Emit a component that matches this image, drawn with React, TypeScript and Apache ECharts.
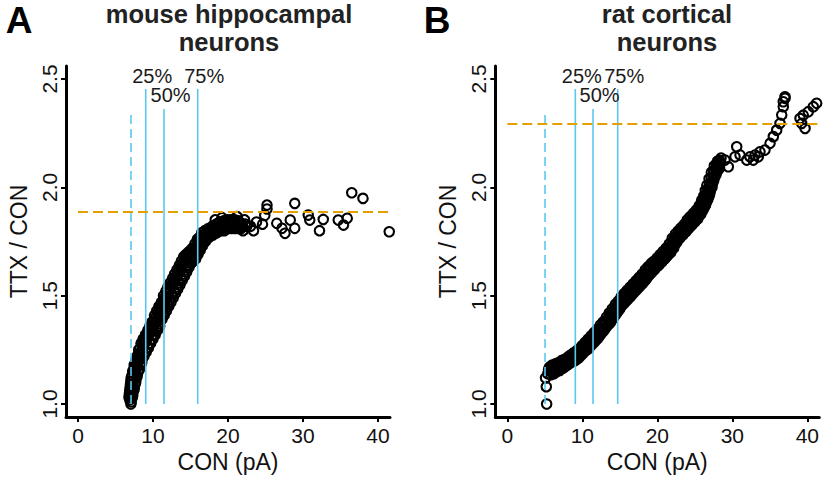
import React, { useEffect, useRef } from "react";
import * as echarts from "echarts";

// ---------- data ----------
const xTicks = [0, 10, 20, 30, 40];
const yTicks = [1.0, 1.5, 2.0, 2.5];
const pctNames = ["25%", "50%", "75%"];
const panelTitles = [["mouse hippocampal", "neurons"], ["rat cortical", "neurons"]];
const panelLetters = ["A", "B"];

const mouseMin = 7.07;
const mousePct = [9.03, 11.47, 15.96];
const mouseMean = 1.886;
const ratMin = 5.03;
const ratPct = [9.07, 11.43, 14.72];
const ratMean = 2.292;
const pctTops = [2.454, 2.361, 2.454];
const minTops = [2.343, 2.334];
const pctLabelY = [2.513, 2.425, 2.513];

const mouseBandLeft: [number, number][] = [
  [6.8, 1.03], [6.9, 1.06], [7.0, 1.09], [7.1, 1.12], [7.3, 1.15], [7.5, 1.18], [7.7, 1.2], [7.9, 1.22],
  [8.1, 1.25], [8.4, 1.28], [8.7, 1.3], [9.0, 1.32], [9.3, 1.34], [9.6, 1.36], [9.9, 1.38], [10.2, 1.41],
  [10.5, 1.43], [10.8, 1.45], [11.1, 1.47], [11.4, 1.5], [11.7, 1.52], [12.0, 1.54], [12.3, 1.56],
  [12.6, 1.58], [12.9, 1.6], [13.2, 1.62], [13.5, 1.64], [13.8, 1.66], [14.1, 1.68], [14.4, 1.69],
  [14.7, 1.7], [15.0, 1.71], [15.3, 1.72], [15.6, 1.74], [15.9, 1.76], [16.2, 1.77], [16.5, 1.79],
  [16.9, 1.8], [17.4, 1.81], [17.9, 1.82], [18.4, 1.83], [18.9, 1.84], [19.4, 1.845], [19.9, 1.85],
  [20.4, 1.85], [20.9, 1.85], [21.4, 1.845],
];
const mouseBandLeft2: [number, number][] = [
  [6.85, 1.045], [6.95, 1.075], [7.05, 1.105], [7.2, 1.13], [7.4, 1.16], [7.6, 1.185], [7.8, 1.205],
  [8.0, 1.23], [8.25, 1.255], [8.55, 1.28], [8.85, 1.3], [9.15, 1.32], [9.45, 1.34], [9.75, 1.36],
  [10.05, 1.38], [10.35, 1.4], [10.65, 1.42], [10.95, 1.445], [11.25, 1.465], [11.55, 1.49], [11.85, 1.51],
  [12.15, 1.53], [12.45, 1.55], [12.75, 1.57], [13.05, 1.59], [13.35, 1.61], [13.65, 1.63], [13.95, 1.65],
  [14.25, 1.67], [14.55, 1.68], [14.85, 1.69], [15.15, 1.7], [15.45, 1.71], [15.75, 1.725], [16.05, 1.745],
  [16.35, 1.76], [16.7, 1.78], [17.1, 1.79], [17.6, 1.8], [18.1, 1.81], [18.6, 1.82], [19.1, 1.83],
  [19.6, 1.835], [20.1, 1.84], [20.6, 1.84], [21.1, 1.84], [21.7, 1.835], [22.3, 1.83],
];
const mouseBandMid: [number, number][] = [
  [6.9, 1.02], [7.0, 1.05], [7.1, 1.08], [7.3, 1.11], [7.5, 1.14], [7.7, 1.17], [7.9, 1.19], [8.1, 1.21],
  [8.4, 1.24], [8.7, 1.27], [9.0, 1.29], [9.3, 1.31], [9.6, 1.33], [9.9, 1.35], [10.2, 1.37], [10.5, 1.39],
  [10.8, 1.42], [11.1, 1.44], [11.4, 1.46], [11.7, 1.48], [12.0, 1.51], [12.3, 1.53], [12.6, 1.55],
  [12.9, 1.57], [13.2, 1.59], [13.5, 1.61], [13.8, 1.63], [14.1, 1.65], [14.4, 1.66], [14.7, 1.67],
  [15.0, 1.68], [15.3, 1.69], [15.6, 1.7], [15.9, 1.71], [16.2, 1.73], [16.5, 1.75], [16.8, 1.77],
  [17.1, 1.78], [17.5, 1.79], [18.0, 1.8], [18.5, 1.81], [19.0, 1.82], [19.5, 1.82], [20.0, 1.83],
  [20.5, 1.83], [21.0, 1.83], [21.5, 1.83], [22.0, 1.82], [22.5, 1.82], [23.0, 1.82],
];
const mouseBandInner: [number, number][] = [
  [7.0, 1.03], [7.2, 1.06], [7.3, 1.09], [7.5, 1.12], [7.7, 1.15], [7.9, 1.18], [8.1, 1.2], [8.3, 1.22],
  [8.6, 1.25], [8.9, 1.28], [9.2, 1.3], [9.5, 1.32], [9.8, 1.34], [10.1, 1.36], [10.4, 1.38], [10.7, 1.4],
  [11.0, 1.43], [11.3, 1.45], [11.6, 1.47], [11.9, 1.49], [12.2, 1.52], [12.5, 1.54], [12.8, 1.56],
  [13.1, 1.58], [13.4, 1.6], [13.7, 1.62], [14.0, 1.64], [14.3, 1.655], [14.6, 1.665], [14.9, 1.675],
  [15.2, 1.685], [15.5, 1.695], [15.8, 1.705], [16.1, 1.72], [16.4, 1.74], [16.7, 1.76], [17.0, 1.77],
  [17.3, 1.78], [17.8, 1.79], [18.3, 1.8], [18.8, 1.81], [19.3, 1.815], [19.8, 1.82], [20.3, 1.82],
  [20.8, 1.82], [21.3, 1.82], [21.8, 1.815],
];
const mouseBandRight2: [number, number][] = [
  [7.05, 1.0], [7.25, 1.03], [7.4, 1.06], [7.6, 1.09], [7.8, 1.12], [8.05, 1.15], [8.3, 1.18], [8.6, 1.21],
  [8.95, 1.24], [9.25, 1.26], [9.55, 1.28], [9.85, 1.3], [10.15, 1.32], [10.45, 1.35], [10.75, 1.37],
  [11.05, 1.39], [11.35, 1.42], [11.65, 1.44], [11.95, 1.46], [12.25, 1.48], [12.55, 1.5], [12.85, 1.52],
  [13.15, 1.54], [13.45, 1.56], [13.75, 1.58], [14.05, 1.6], [14.35, 1.62], [14.65, 1.64], [14.95, 1.655],
  [15.25, 1.665], [15.55, 1.675], [15.85, 1.69], [16.15, 1.71], [16.45, 1.73], [16.8, 1.75], [17.25, 1.77],
  [17.75, 1.78], [18.25, 1.79], [18.75, 1.8], [19.25, 1.805], [19.75, 1.81], [20.25, 1.815], [20.75, 1.815],
  [21.25, 1.815], [21.75, 1.81],
];
const mouseBandRight: [number, number][] = [
  [7.1, 1.01], [7.3, 1.04], [7.5, 1.07], [7.7, 1.1], [7.9, 1.13], [8.2, 1.16], [8.5, 1.19], [8.8, 1.22],
  [9.1, 1.24], [9.4, 1.26], [9.7, 1.28], [10.0, 1.3], [10.3, 1.32], [10.6, 1.34], [10.9, 1.36], [11.2, 1.39],
  [11.5, 1.41], [11.8, 1.43], [12.1, 1.45], [12.4, 1.47], [12.7, 1.49], [13.0, 1.51], [13.3, 1.53],
  [13.6, 1.55], [13.9, 1.57], [14.2, 1.59], [14.5, 1.61], [14.8, 1.63], [15.1, 1.65], [15.4, 1.66],
  [15.7, 1.67], [16.0, 1.69], [16.3, 1.71], [16.6, 1.73], [17.0, 1.75], [17.5, 1.77], [18.0, 1.78],
  [18.5, 1.79], [19.0, 1.8], [19.5, 1.8], [20.0, 1.81], [20.5, 1.81], [21.0, 1.81], [21.5, 1.81], [22.0, 1.8],
];
const mouseSpread: [number, number][] = [
  [18.3, 1.85], [19.2, 1.86], [21.2, 1.865], [22.2, 1.85], [23.4, 1.8], [23.8, 1.84], [24.6, 1.83],
  [25.2, 1.918], [25.2, 1.9], [24.9, 1.87], [26.5, 1.834], [27.2, 1.811], [27.6, 1.788], [28.3, 1.849],
  [28.9, 1.811], [28.9, 1.926], [30.7, 1.872], [30.9, 1.849], [32.2, 1.8], [32.7, 1.852], [34.7, 1.849],
  [35.4, 1.826], [35.9, 1.857], [36.5, 1.975], [38.0, 1.949], [41.5, 1.795],
];

const ratBandMid: [number, number][] = [
  [5.25, 1.0], [5.2, 1.08], [5.1, 1.12], [5.4, 1.14], [5.8, 1.15], [6.2, 1.16], [6.6, 1.165], [7.0, 1.17],
  [7.4, 1.18], [7.8, 1.19], [8.2, 1.2], [8.6, 1.21], [9.0, 1.215], [9.4, 1.225], [9.8, 1.24], [10.2, 1.255],
  [10.6, 1.265], [11.0, 1.28], [11.4, 1.295], [11.8, 1.31], [12.2, 1.33], [12.6, 1.345], [13.0, 1.365],
  [13.4, 1.385], [13.8, 1.4], [14.2, 1.42], [14.6, 1.44], [15.0, 1.46], [15.4, 1.48], [15.8, 1.495],
  [16.2, 1.51], [16.6, 1.525], [17.0, 1.54], [17.4, 1.555], [17.8, 1.57], [18.2, 1.585], [18.6, 1.6],
  [19.0, 1.62], [19.4, 1.635], [19.8, 1.645], [20.2, 1.66], [20.6, 1.675], [21.0, 1.69], [21.4, 1.705],
  [21.8, 1.72], [22.2, 1.745], [22.6, 1.77], [23.0, 1.785], [23.4, 1.8], [23.8, 1.815], [24.2, 1.83],
  [24.6, 1.845], [25.0, 1.86], [25.4, 1.875], [25.8, 1.895], [26.1, 1.92], [26.4, 1.94], [26.6, 1.955],
  [26.8, 1.975], [27.0, 2.0], [27.2, 2.025], [27.5, 2.05], [27.8, 2.08], [28.1, 2.1], [28.4, 2.115],
];
const ratBandUpper2: [number, number][] = [
  [5.5, 1.16], [5.9, 1.165], [6.3, 1.175], [6.7, 1.18], [7.1, 1.185], [7.5, 1.195], [7.9, 1.2], [8.3, 1.215],
  [8.7, 1.225], [9.1, 1.23], [9.5, 1.24], [9.9, 1.255], [10.3, 1.27], [10.7, 1.28], [11.1, 1.3], [11.5, 1.31],
  [11.9, 1.325], [12.3, 1.345], [12.7, 1.365], [13.1, 1.38], [13.5, 1.4], [13.9, 1.42], [14.3, 1.44],
  [14.7, 1.46], [15.1, 1.475], [15.5, 1.495], [15.9, 1.51], [16.3, 1.525], [16.7, 1.54], [17.1, 1.555],
  [17.5, 1.57], [17.9, 1.585], [18.3, 1.6], [18.7, 1.62], [19.1, 1.635], [19.5, 1.65], [19.9, 1.66],
  [20.3, 1.675], [20.7, 1.69], [21.1, 1.705], [21.5, 1.72], [21.9, 1.74], [22.3, 1.765], [22.7, 1.785],
  [23.1, 1.8], [23.5, 1.815], [23.9, 1.83], [24.3, 1.85], [24.7, 1.865], [25.1, 1.88], [25.5, 1.895],
  [25.85, 1.915], [26.15, 1.94], [26.45, 1.96], [26.7, 1.985], [26.95, 2.015], [27.2, 2.045], [27.5, 2.075],
  [27.9, 2.105], [28.3, 2.125],
];
const ratBandUpper: [number, number][] = [
  [5.6, 1.17], [6.0, 1.18], [6.4, 1.185], [6.8, 1.19], [7.2, 1.2], [7.6, 1.205], [8.0, 1.215], [8.4, 1.225],
  [8.8, 1.235], [9.2, 1.245], [9.6, 1.255], [10.0, 1.27], [10.4, 1.285], [10.8, 1.3], [11.2, 1.315],
  [11.6, 1.33], [12.0, 1.345], [12.4, 1.365], [12.8, 1.38], [13.2, 1.4], [13.6, 1.42], [14.0, 1.44],
  [14.4, 1.46], [14.8, 1.475], [15.2, 1.495], [15.6, 1.51], [16.0, 1.525], [16.4, 1.54], [16.8, 1.555],
  [17.2, 1.57], [17.6, 1.585], [18.0, 1.6], [18.4, 1.62], [18.8, 1.635], [19.2, 1.65], [19.6, 1.66],
  [20.0, 1.675], [20.4, 1.69], [20.8, 1.705], [21.2, 1.72], [21.6, 1.74], [22.0, 1.765], [22.4, 1.785],
  [22.8, 1.8], [23.2, 1.815], [23.6, 1.83], [24.0, 1.85], [24.4, 1.865], [24.8, 1.88], [25.2, 1.895],
  [25.6, 1.915], [25.9, 1.94], [26.2, 1.96], [26.4, 1.985], [26.6, 2.01], [26.9, 2.04], [27.2, 2.07],
  [27.6, 2.1], [28.0, 2.12], [28.5, 2.135],
];
const ratBandLower2: [number, number][] = [
  [5.8, 1.135], [6.2, 1.14], [6.6, 1.15], [7.0, 1.155], [7.4, 1.165], [7.8, 1.175], [8.2, 1.185], [8.6, 1.195],
  [9.0, 1.2], [9.4, 1.21], [9.8, 1.225], [10.2, 1.24], [10.6, 1.25], [11.0, 1.265], [11.4, 1.28], [11.8, 1.295],
  [12.2, 1.31], [12.6, 1.33], [13.0, 1.345], [13.4, 1.365], [13.8, 1.38], [14.2, 1.4], [14.6, 1.42],
  [15.0, 1.44], [15.4, 1.46], [15.8, 1.475], [16.2, 1.49], [16.6, 1.505], [17.0, 1.52], [17.4, 1.535],
  [17.8, 1.55], [18.2, 1.565], [18.6, 1.58], [19.0, 1.6], [19.4, 1.615], [19.8, 1.63], [20.2, 1.64],
  [20.6, 1.655], [21.0, 1.67], [21.4, 1.685], [21.8, 1.7], [22.2, 1.72], [22.6, 1.745], [23.0, 1.765],
  [23.4, 1.78], [23.8, 1.795], [24.2, 1.81], [24.6, 1.825], [25.0, 1.84], [25.4, 1.855], [25.8, 1.875],
  [26.15, 1.9], [26.45, 1.92], [26.75, 1.945], [27.0, 1.97], [27.3, 2.0], [27.55, 2.035], [27.85, 2.06],
  [28.2, 2.085],
];
const ratBandLower: [number, number][] = [
  [6.0, 1.145], [6.4, 1.15], [6.8, 1.155], [7.2, 1.165], [7.6, 1.17], [8.0, 1.18], [8.4, 1.19], [8.8, 1.2],
  [9.2, 1.205], [9.6, 1.215], [10.0, 1.23], [10.4, 1.245], [10.8, 1.255], [11.2, 1.27], [11.6, 1.285],
  [12.0, 1.3], [12.4, 1.32], [12.8, 1.335], [13.2, 1.355], [13.6, 1.37], [14.0, 1.39], [14.4, 1.41],
  [14.8, 1.43], [15.2, 1.45], [15.6, 1.465], [16.0, 1.48], [16.4, 1.495], [16.8, 1.51], [17.2, 1.525],
  [17.6, 1.54], [18.0, 1.555], [18.4, 1.57], [18.8, 1.59], [19.2, 1.605], [19.6, 1.62], [20.0, 1.635],
  [20.4, 1.65], [20.8, 1.665], [21.2, 1.68], [21.6, 1.695], [22.0, 1.715], [22.4, 1.74], [22.8, 1.76],
  [23.2, 1.775], [23.6, 1.79], [24.0, 1.805], [24.4, 1.82], [24.8, 1.835], [25.2, 1.85], [25.6, 1.87],
  [26.0, 1.89], [26.3, 1.91], [26.6, 1.935], [26.9, 1.96], [27.1, 1.985], [27.4, 2.02], [27.7, 2.05],
  [28.0, 2.075], [28.3, 2.09],
];
const ratSpread: [number, number][] = [
  [28.36, 2.111], [29.03, 2.126], [29.47, 2.095], [30.59, 2.187], [30.36, 2.141], [31.03, 2.149],
  [31.92, 2.126], [32.36, 2.141], [32.8, 2.126], [33.03, 2.149], [33.47, 2.141], [33.69, 2.164],
  [34.36, 2.172], [35.03, 2.203], [35.47, 2.234], [35.92, 2.264], [36.36, 2.295], [36.59, 2.334],
  [36.8, 2.372], [37.03, 2.411], [37.03, 2.418], [36.8, 2.395],
  [39.03, 2.318], [39.25, 2.295], [39.7, 2.272], [39.47, 2.333], [40.13, 2.349], [40.8, 2.372], [41.25, 2.388],
];

// ---------- layout / style ----------
const X_MIN = -1.6;
const X_MAX = 41.6;
const Y_MIN = 0.94;
const Y_MAX = 2.56;
const FONT = "Liberation Sans, Arial, Helvetica, sans-serif";
const CYAN = "#5ac8f0";
const ORANGE = "#e69f00";
const INK = "#111";
const gridLefts = [66, 495.3];
const titleCenters = [229, 667];
const letterCenters = [19, 437];

export default function App() {
  const ref = useRef<HTMLDivElement>(null);
  useEffect(() => {
    if (!ref.current) return;
    const chart = echarts.init(ref.current, undefined, { renderer: "svg" });

    const panels = [
      {
        points: [...mouseBandLeft, ...mouseBandLeft2, ...mouseBandMid, ...mouseBandInner, ...mouseBandRight2, ...mouseBandRight, ...mouseSpread],
        min: mouseMin, pct: mousePct, mean: mouseMean, minTop: minTops[0],
      },
      {
        points: [...ratBandMid, ...ratBandUpper2, ...ratBandUpper, ...ratBandLower2, ...ratBandLower, ...ratSpread],
        min: ratMin, pct: ratPct, mean: ratMean, minTop: minTops[1],
      },
    ];

    const grid: any[] = [];
    const xAxis: any[] = [];
    const yAxis: any[] = [];
    const series: any[] = [];
    const graphic: any[] = [];

    panels.forEach((p, i) => {
      grid.push({ left: gridLefts[i], top: 66, width: 324, height: 351 });
      xAxis.push({
        gridIndex: i, type: "value", min: X_MIN, max: X_MAX,
        axisLine: { show: true, onZero: false, lineStyle: { color: "#000", width: 3 } },
        axisTick: { show: true, customValues: xTicks, length: 5, lineStyle: { color: "#000", width: 2 } },
        axisLabel: { customValues: xTicks, fontSize: 21, color: INK, margin: 8, fontFamily: FONT },
        splitLine: { show: false },
        name: "CON (pA)", nameLocation: "middle", nameGap: 32,
        nameTextStyle: { fontSize: 23, color: INK, fontFamily: FONT },
      });
      yAxis.push({
        gridIndex: i, type: "value", min: Y_MIN, max: Y_MAX,
        axisLine: { show: true, onZero: false, lineStyle: { color: "#000", width: 3 } },
        axisTick: { show: true, customValues: yTicks, length: 5, lineStyle: { color: "#000", width: 2 } },
        axisLabel: { customValues: yTicks, fontSize: 21, color: INK, margin: 6, rotate: 90, fontFamily: FONT, formatter: (v: number) => v.toFixed(1) },
        splitLine: { show: false },
        name: "TTX / CON", nameLocation: "middle", nameGap: 36,
        nameTextStyle: { fontSize: 23, color: INK, fontFamily: FONT },
      });
      series.push({
        type: "scatter", xAxisIndex: i, yAxisIndex: i, data: p.points,
        symbol: "circle", symbolSize: 9.5, z: 2,
        itemStyle: { color: "rgba(0,0,0,0)", borderColor: "#000", borderWidth: 2.1, opacity: 1 },
      });
      series.push({
        type: "line", xAxisIndex: i, yAxisIndex: i, symbol: "none", z: 3,
        data: [[p.min, 1.0], [p.min, p.minTop]],
        lineStyle: { color: CYAN, width: 1.6, type: [9, 5] },
      });
      p.pct.forEach((v, k) => {
        series.push({
          type: "line", xAxisIndex: i, yAxisIndex: i, symbol: "none", z: 3,
          data: [[v, 1.0], [v, pctTops[k]]],
          lineStyle: { color: CYAN, width: 1.6 },
        });
      });
      series.push({
        type: "line", xAxisIndex: i, yAxisIndex: i, symbol: "none", z: 4,
        data: [[0, p.mean], [X_MAX, p.mean]],
        lineStyle: { color: ORANGE, width: 2, type: [10, 5] },
      });
      series.push({
        type: "scatter", xAxisIndex: i, yAxisIndex: i, symbolSize: 0, z: 5, silent: true,
        itemStyle: { opacity: 1 },
        data: p.pct.map((v, k) => ({ value: [v + 0.87, pctLabelY[k]], name: pctNames[k] })),
        label: { show: true, position: "inside", formatter: "{b}", fontSize: 20, color: "#1a1a1a", opacity: 1, fontFamily: FONT },
      });

      graphic.push({
        type: "text", x: letterCenters[i], y: 20,
        style: { text: panelLetters[i], fontSize: 37, fontWeight: "bold", fill: "#000", fontFamily: FONT, align: "center", verticalAlign: "middle" },
      });
      graphic.push({
        type: "text", x: titleCenters[i], y: 13.5,
        style: { text: panelTitles[i][0], fontSize: 25.5, fontWeight: "bold", fill: "#222", fontFamily: FONT, align: "center", verticalAlign: "middle" },
      });
      graphic.push({
        type: "text", x: titleCenters[i], y: 41.5,
        style: { text: panelTitles[i][1], fontSize: 25.5, fontWeight: "bold", fill: "#222", fontFamily: FONT, align: "center", verticalAlign: "middle" },
      });
    });

    chart.setOption({
      animation: false,
      backgroundColor: "#fff",
      textStyle: { fontFamily: FONT },
      grid, xAxis, yAxis, series, graphic,
    });
    return () => chart.dispose();
  }, []);
  return <div ref={ref} style={{ position: "fixed", left: 0, top: 0, width: 826, height: 481 }} />;
}
